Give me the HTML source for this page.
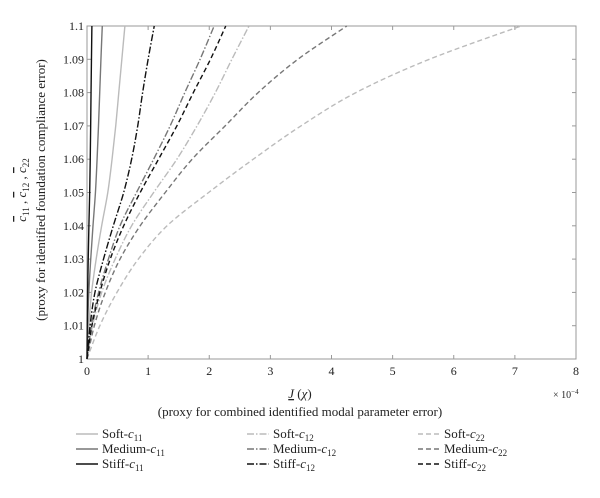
<!DOCTYPE html>
<html><head><meta charset="utf-8"><style>
body{margin:0;background:#fff;width:600px;height:493px;overflow:hidden}
svg text{font-family:"Liberation Serif",serif;fill:#222}
</style></head><body>
<svg id="c" width="600" height="493">
<g id="axes"></g><g id="series"></g>
<g>
<text transform="translate(26,190) rotate(-90)" text-anchor="middle" font-size="13"><tspan font-style="italic" text-decoration="overline">c</tspan><tspan font-size="9" dy="3">11</tspan><tspan dy="-3"> , </tspan><tspan font-style="italic" text-decoration="overline">c</tspan><tspan font-size="9" dy="3">12</tspan><tspan dy="-3"> , </tspan><tspan font-style="italic" text-decoration="overline">c</tspan><tspan font-size="9" dy="3">22</tspan></text>
<text transform="translate(45,190) rotate(-90)" text-anchor="middle" font-size="13">(proxy for identified foundation compliance error)</text>
</g>
<g>
<text x="300" y="398" text-anchor="middle" font-size="13"><tspan font-style="italic" text-decoration="underline">J</tspan> (<tspan font-style="italic">χ</tspan>)</text>
<text x="300" y="416" text-anchor="middle" font-size="13">(proxy for combined identified modal parameter error)</text>
<text x="553" y="398" font-size="10">× 10<tspan font-size="7" dy="-4">−4</tspan></text>
</g>
<g id="legend"></g>
</svg>
<script>
const yLevels=[1,1.01,1.02,1.03,1.04,1.05,1.06,1.07,1.08,1.09,1.1];
const seriesNames=["Soft-c11","Medium-c11","Stiff-c11","Soft-c12","Medium-c12","Stiff-c12","Soft-c22","Medium-c22","Stiff-c22"];
const softC11=[0,0.03,0.075,0.15,0.24,0.34,0.41,0.47,0.52,0.57,0.62];
const mediumC11=[0,0.011,0.03,0.061,0.098,0.138,0.165,0.188,0.208,0.228,0.25];
const stiffC11=[0,0.004,0.01,0.02,0.031,0.044,0.053,0.06,0.066,0.073,0.08];
const softC12=[0,0.09,0.24,0.46,0.73,1.09,1.47,1.8,2.1,2.37,2.65];
const mediumC12=[0,0.07,0.19,0.35,0.54,0.81,1.09,1.36,1.6,1.85,2.08];
const stiffC12=[0,0.05,0.13,0.27,0.43,0.6,0.73,0.83,0.91,1.0,1.1];
const softC22=[0,0.21,0.49,0.84,1.31,1.99,2.72,3.5,4.4,5.6,7.1];
const mediumC22=[0,0.12,0.3,0.54,0.87,1.28,1.72,2.26,2.8,3.45,4.25];
const stiffC22=[0,0.08,0.21,0.38,0.6,0.87,1.17,1.47,1.74,2.02,2.27];
const xTicks=[0,1,2,3,4,5,6,7,8];
const yTicks=["1","1.01","1.02","1.03","1.04","1.05","1.06","1.07","1.08","1.09","1.1"];
const NS="http://www.w3.org/2000/svg";
const X0=87,X1=576,Y0=359,Y1=26;
const sx=v=>X0+(v-0)/8*(X1-X0);
const sy=v=>Y0-(v-1)/0.1*(Y0-Y1);
function mk(t,a,p){const e=document.createElementNS(NS,t);for(const k in a)e.setAttribute(k,a[k]);p.appendChild(e);return e;}
const ax=document.getElementById('axes');
const box=mk('rect',{x:X0,y:Y1,width:X1-X0,height:Y0-Y1,fill:'none',stroke:'#999','stroke-width':1},ax);


xTicks.forEach(t=>{const x=sx(t);
 mk('line',{x1:x,x2:x,y1:Y0,y2:Y0-4,stroke:'#999'},ax);
 mk('line',{x1:x,x2:x,y1:Y1,y2:Y1+4,stroke:'#999'},ax);
 const tx=mk('text',{x:x,y:Y0+16,'text-anchor':'middle','font-size':12},ax);tx.textContent=t;
 
 });
yTicks.forEach(t=>{const y=sy(parseFloat(t));
 mk('line',{x1:X0,x2:X0+4,y1:y,y2:y,stroke:'#999'},ax);
 mk('line',{x1:X1,x2:X1-4,y1:y,y2:y,stroke:'#999'},ax);
 const tx=mk('text',{x:X0-3,y:y+4,'text-anchor':'end','font-size':12},ax);tx.textContent=t;
 
 });
const data=[softC11,mediumC11,stiffC11,softC12,mediumC12,stiffC12,softC22,mediumC22,stiffC22];
const cols=['#bbb','#777','#111'];
const dashes=['none','7,2,1.5,2','5,3'];
const sg=document.getElementById('series');
function smooth(P){let d='M'+P[0][0]+','+P[0][1];
 for(let i=0;i<P.length-1;i++){const p0=P[i-1]||P[i],p1=P[i],p2=P[i+1],p3=P[i+2]||p2;
  const c1=[p1[0]+(p2[0]-p0[0])/6,p1[1]+(p2[1]-p0[1])/6],c2=[p2[0]-(p3[0]-p1[0])/6,p2[1]-(p3[1]-p1[1])/6];
  d+=' C'+c1+' '+c2+' '+p2;}
 return d;}
data.forEach((arr,i)=>{
 const P=arr.map((v,j)=>[sx(v),sy(yLevels[j])]);
 const p=mk('path',{d:smooth(P),fill:'none',stroke:cols[i%3],'stroke-width':1.4,'stroke-dasharray':dashes[Math.floor(i/3)]},sg);
 
 
});
const lg=document.getElementById('legend');
const colX=[76,247,418],rowY=[438,453,468];
seriesNames.forEach((n,i)=>{
 const c=Math.floor(i/3),r=i%3;
 const g=mk('g',{},lg);
 
 
 mk('line',{x1:colX[c],x2:colX[c]+22,y1:rowY[r]-4,y2:rowY[r]-4,stroke:cols[r],'stroke-width':1.4,'stroke-dasharray':dashes[c]},g);
 const parts=n.split('-');
 const t=mk('text',{x:colX[c]+26,y:rowY[r],'font-size':13},g);
 t.innerHTML=parts[0]+'-<tspan font-style="italic">c</tspan><tspan font-size="9" dy="3">'+parts[1].slice(1)+'</tspan>';
});
</script>
</body></html>
